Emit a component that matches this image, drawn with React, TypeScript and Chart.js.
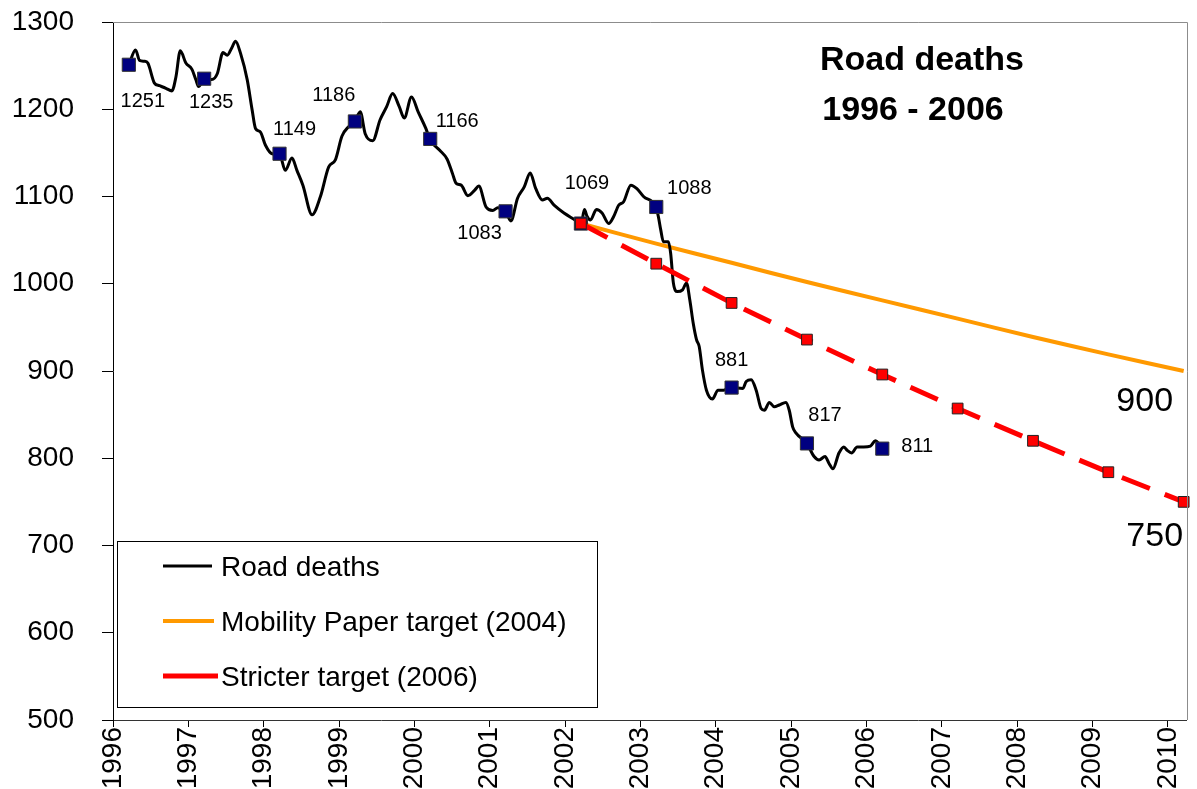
import React, { useEffect, useRef } from "react";
import { Chart, registerables } from "chart.js";

Chart.register(...registerables);

const FONT = "'Liberation Sans', Arial, Helvetica, sans-serif";

// Road deaths (rolling, monthly-ish readings)
const deathYears = [
  1996.211, 1996.299, 1996.352, 1996.418, 1996.462, 1996.55, 1996.616, 1996.703, 1996.782, 1996.835,
  1996.893, 1996.967, 1997.046, 1997.099, 1997.135, 1997.214, 1997.31, 1997.385, 1997.46, 1997.517,
  1997.574, 1997.627, 1997.693, 1997.781, 1997.847, 1997.891, 1997.956, 1998.022, 1998.111, 1998.212,
  1998.286, 1998.375, 1998.441, 1998.52, 1998.642, 1998.753, 1998.863, 1998.951, 1999.038, 1999.127,
  1999.206, 1999.281, 1999.347, 1999.447, 1999.545, 1999.632, 1999.711, 1999.799, 1999.865, 1999.962,
  2000.05, 2000.152, 2000.208, 2000.336, 2000.433, 2000.503, 2000.555, 2000.621, 2000.71, 2000.798,
  2000.855, 2000.951, 2001.04, 2001.106, 2001.211, 2001.281, 2001.369, 2001.458, 2001.537, 2001.611,
  2001.699, 2001.765, 2001.854, 2001.985, 2002.117, 2002.214, 2002.257, 2002.293, 2002.336, 2002.416,
  2002.491, 2002.579, 2002.645, 2002.711, 2002.777, 2002.873, 2002.953, 2003.041, 2003.203, 2003.238,
  2003.269, 2003.305, 2003.371, 2003.401, 2003.437, 2003.489, 2003.559, 2003.612, 2003.656, 2003.7,
  2003.744, 2003.78, 2003.823, 2003.876, 2003.955, 2004.03, 2004.104, 2004.206, 2004.36, 2004.404,
  2004.47, 2004.536, 2004.602, 2004.645, 2004.711, 2004.777, 2004.843, 2004.931, 2004.975, 2005.02,
  2005.063, 2005.208, 2005.305, 2005.371, 2005.45, 2005.503, 2005.555, 2005.635, 2005.7, 2005.745,
  2005.802, 2005.877, 2005.964, 2006.053, 2006.119, 2006.162, 2006.207,
];
const deathValues = [
  1251, 1268, 1256, 1255, 1253, 1230, 1227, 1224, 1221, 1237,
  1267, 1253, 1246, 1234, 1226, 1234, 1234, 1241, 1265, 1262,
  1270, 1278, 1264, 1234, 1199, 1178, 1174, 1159, 1149, 1148,
  1130, 1144, 1130, 1113, 1079, 1100, 1134, 1142, 1169, 1180,
  1185, 1197, 1172, 1164, 1188, 1203, 1218, 1203, 1190, 1214,
  1197, 1178, 1165, 1153, 1143, 1127, 1115, 1113, 1101, 1107,
  1112, 1088, 1084, 1087, 1083, 1072, 1098, 1111, 1127, 1109,
  1096, 1098, 1090, 1081, 1074, 1069, 1085, 1077, 1073, 1085,
  1081, 1069, 1077, 1090, 1094, 1113, 1109, 1100, 1088, 1077,
  1062, 1048, 1048, 1035, 1001, 991, 993, 1001, 981, 955,
  936, 928, 901, 878, 868, 878, 878, 881, 880, 888,
  890, 878, 857, 855, 864, 859, 861, 864, 855, 836,
  829, 817, 802, 798, 802, 794, 788, 806, 813, 809,
  806, 813, 813, 814, 820, 817, 811,
];

// Annual values (markers)
const annualYears = [1996.21, 1997.21, 1998.21, 1999.21, 2000.21, 2001.21, 2002.21, 2003.21, 2004.21, 2005.21, 2006.21];
const annualValues = [1251, 1235, 1149, 1186, 1166, 1083, 1069, 1088, 881, 817, 811];

// Targets
const targetYears = [2002.21, 2003.21, 2004.21, 2005.21, 2006.21, 2007.21, 2008.21, 2009.21, 2010.21];
const mobilityValues = [1069, 1046, 1024, 1002, 981, 960, 939, 919, 900];
const stricterValues = [1069, 1023, 978, 936, 896, 857, 820, 784, 750];

// Axis ticks
const xTickYears = [1996, 1997, 1998, 1999, 2000, 2001, 2002, 2003, 2004, 2005, 2006, 2007, 2008, 2009, 2010];
const yTickValues = [500, 600, 700, 800, 900, 1000, 1100, 1200, 1300];

// Legend / titles
const legendLabels = ["Road deaths", "Mobility Paper target (2004)", "Stricter target (2006)"];
const titleLines = ["Road deaths", "1996 - 2006"];

// label offsets (px) for annual value labels — style only
const annualLabelOffsets: [number, number][] = [
  [14, 37], [7, 24], [15, -24], [-21, -26], [27, -17], [-26, 22],
  [6, -40], [33, -18], [0, -27], [18, -28], [35, -2],
];

const overlayPlugin = {
  id: "overlay",
  afterDraw(chart: any) {
    const { ctx, chartArea: a, scales } = chart;
    const xs = scales.x;
    const ys = scales.y;
    ctx.save();

    // top & right frame
    ctx.strokeStyle = "#8c8c8c";
    ctx.lineWidth = 1;
    ctx.beginPath();
    ctx.moveTo(a.left, Math.round(a.top) + 0.5);
    ctx.lineTo(Math.round(a.right) + 0.5, Math.round(a.top) + 0.5);
    ctx.lineTo(Math.round(a.right) + 0.5, a.bottom);
    ctx.stroke();

    // annual labels
    ctx.fillStyle = "#000";
    ctx.font = `20px ${FONT}`;
    ctx.textAlign = "center";
    ctx.textBaseline = "middle";
    annualValues.forEach((v, i) => {
      const px = xs.getPixelForValue(annualYears[i]);
      const py = ys.getPixelForValue(v);
      const [dx, dy] = annualLabelOffsets[i];
      ctx.fillText(String(v), px + dx, py + dy);
    });

    // target end labels
    ctx.font = `34px ${FONT}`;
    const last = targetYears.length - 1;
    const ex = xs.getPixelForValue(targetYears[last]);
    ctx.fillText(String(mobilityValues[last]), ex - 39, ys.getPixelForValue(mobilityValues[last]) + 31);
    ctx.fillText(String(stricterValues[last]), ex - 29, ys.getPixelForValue(stricterValues[last]) + 35);

    // title
    ctx.font = `bold 34px ${FONT}`;
    ctx.fillText(titleLines[0], 922, 61);
    ctx.fillText(titleLines[1], 913, 111);

    // legend
    const lx = 117, ly = 541, lw = 480, lh = 166;
    ctx.fillStyle = "#fff";
    ctx.fillRect(lx, ly, lw, lh);
    ctx.strokeStyle = "#000";
    ctx.lineWidth = 1;
    ctx.strokeRect(lx + 0.5, ly + 0.5, lw, lh);
    const items = [
      { color: "#000000", width: 3, end: 212, y: 566 },
      { color: "#FF9900", width: 4, end: 214, y: 621 },
      { color: "#FF0000", width: 5, end: 218, y: 676 },
    ];
    items.forEach((it, i) => {
      ctx.strokeStyle = it.color;
      ctx.lineWidth = it.width;
      ctx.beginPath();
      ctx.moveTo(163, it.y);
      ctx.lineTo(it.end, it.y);
      ctx.stroke();
      ctx.fillStyle = "#000";
      ctx.font = `28px ${FONT}`;
      ctx.textAlign = "left";
      ctx.textBaseline = "middle";
      ctx.fillText(legendLabels[i], 221, it.y + 2);
    });

    ctx.restore();
  },
};

export default function App() {
  const canvasRef = useRef<HTMLCanvasElement | null>(null);

  useEffect(() => {
    document.body.style.margin = "0";
    const canvas = canvasRef.current;
    if (!canvas) return;

    const pts = (xsArr: number[], ysArr: number[]) => xsArr.map((x, i) => ({ x, y: ysArr[i] }));

    const chart = new Chart(canvas, {
      type: "line",
      data: {
        datasets: [
          {
            label: "Stricter target (2006)",
            data: pts(targetYears, stricterValues),
            borderColor: "#FF0000",
            borderWidth: 5,
            borderDash: [30, 16],
            pointStyle: "rect",
            pointRadius: 7.6,
            pointBackgroundColor: "#FF0000",
            pointBorderColor: "#222",
            pointBorderWidth: 1,
            tension: 0,
            clip: false,
            order: 0,
          } as any,
          {
            label: "Annual",
            data: pts(annualYears, annualValues),
            showLine: false,
            pointStyle: "rect",
            pointRadius: 9.3,
            pointBackgroundColor: "#000080",
            pointBorderColor: "#333",
            pointBorderWidth: 1,
            clip: false,
            order: 1,
          } as any,
          {
            label: "Road deaths",
            data: pts(deathYears, deathValues),
            borderColor: "#000",
            borderWidth: 3,
            pointRadius: 0,
            cubicInterpolationMode: "monotone",
            clip: false,
            order: 2,
          } as any,
          {
            label: "Mobility Paper target (2004)",
            data: pts(targetYears, mobilityValues),
            borderColor: "#FF9900",
            borderWidth: 4,
            pointRadius: 0,
            tension: 0.3,
            clip: false,
            order: 3,
          } as any,
        ],
      },
      options: {
        responsive: false,
        animation: false,
        devicePixelRatio: 1,
        layout: { padding: { top: 22, right: 4, left: 0, bottom: 0 } },
        plugins: {
          legend: { display: false },
          tooltip: { enabled: false },
          title: { display: false },
        },
        scales: {
          x: {
            type: "linear",
            min: 1996,
            max: 2010.25,
            afterBuildTicks: (s: any) => {
              s.ticks = xTickYears.map((v) => ({ value: v }));
            },
            afterFit: (s: any) => {
              s.height = 69;
              s.paddingLeft = 0;
              s.paddingRight = 0;
              s.paddingTop = 0;
              s.paddingBottom = 0;
            },
            ticks: {
              autoSkip: false,
              minRotation: 90,
              maxRotation: 90,
              padding: 0,
              color: "#000",
              font: { family: FONT, size: 28 },
              callback: (v: any) => String(v),
            },
            grid: { drawOnChartArea: false, drawTicks: true, tickLength: 7, color: "#000" },
            border: { color: "#333", width: 1 },
          },
          y: {
            type: "linear",
            min: 500,
            max: 1300,
            afterBuildTicks: (s: any) => {
              s.ticks = yTickValues.map((v) => ({ value: v }));
            },
            afterFit: (s: any) => {
              s.width = 113;
              s.paddingLeft = 0;
              s.paddingRight = 0;
              s.paddingTop = 0;
              s.paddingBottom = 0;
            },
            ticks: {
              padding: 28,
              color: "#000",
              font: { family: FONT, size: 28 },
              callback: (v: any) => String(v),
            },
            grid: { drawOnChartArea: false, drawTicks: true, tickLength: 11, color: "#000" },
            border: { color: "#000", width: 1 },
          },
        },
      } as any,
      plugins: [overlayPlugin],
    });

    return () => {
      chart.destroy();
    };
  }, []);

  return (
    <div style={{ width: 1197, height: 789, background: "#fff" }}>
      <canvas ref={canvasRef} width={1197} height={789} style={{ display: "block" }} />
    </div>
  );
}
